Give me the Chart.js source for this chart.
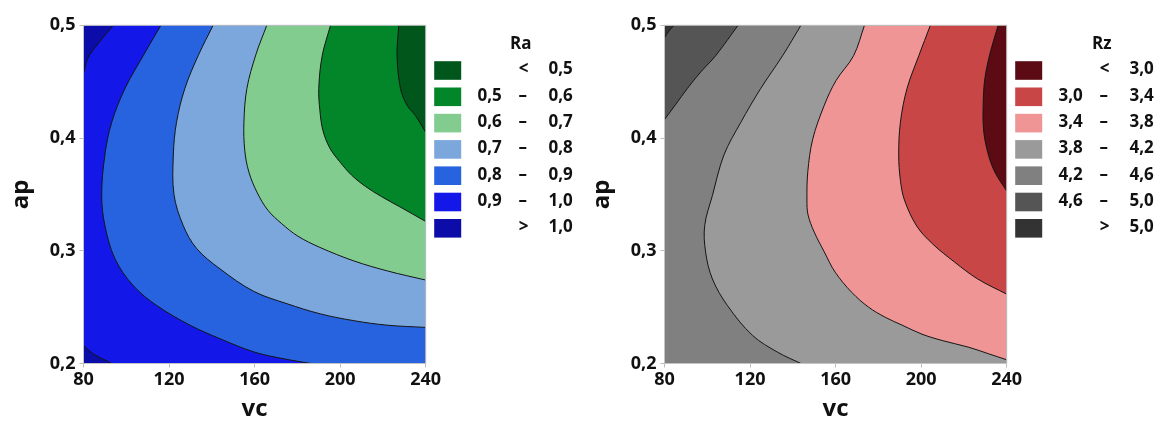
<!DOCTYPE html>
<html>
<head>
<meta charset="utf-8">
<script src="https://cdn.jsdelivr.net/npm/chart.js@4.4.0/dist/chart.umd.min.js"></script>
<style>
  html, body { margin: 0; padding: 0; background: #fff; }
  canvas { position: absolute; top: 0; }
  #raChart { left: 0; }
  #rzChart { left: 581px; }
</style>
</head>
<body>
<canvas id="raChart" width="581" height="421"></canvas>
<canvas id="rzChart" width="581" height="421"></canvas>
<script>
// Axis ticks
const vcTicks = [80, 120, 160, 200, 240];
const apTicks = [0.2, 0.3, 0.4, 0.5];

// Ra contour levels and lines as [vc, ap]
const raLevels = [0.5, 0.6, 0.7, 0.8, 0.9, 1.0];
const ra10top = [[94.0, 0.5], [87.4, 0.485], [82.1, 0.471], [80, 0.457]];
const ra10bot = [[80, 0.216], [84.6, 0.2085], [89.1, 0.204], [93.2, 0.2]];
const ra09 = [[116.2, 0.5], [107.9, 0.473], [99.4, 0.444], [93.2, 0.414], [90.0, 0.385], [88.5, 0.349], [90.0, 0.3225], [94.7, 0.293], [103.3, 0.269], [114.2, 0.2515], [129.8, 0.234], [143.8, 0.222], [160.1, 0.21], [174.1, 0.204], [186.3, 0.2]];
const ra08 = [[140.6, 0.5], [133.6, 0.473], [127.4, 0.444], [123.5, 0.414], [122.0, 0.385], [122.3, 0.35], [126.6, 0.3225], [132.9, 0.302], [143.8, 0.284], [159.6, 0.264], [175.2, 0.253], [190.8, 0.244], [206.4, 0.238], [221.9, 0.234], [240, 0.232]];
const ra07 = [[165.7, 0.5], [160.6, 0.474], [156.4, 0.444], [155.0, 0.414], [155.4, 0.389], [157.3, 0.37], [161.1, 0.352], [166.2, 0.336], [172.7, 0.324], [180.2, 0.313], [190.5, 0.303], [206.4, 0.291], [222.3, 0.282], [240, 0.274]];
const ra06 = [[195.5, 0.5], [191.6, 0.473], [190.0, 0.444], [190.5, 0.425], [191.9, 0.407], [195.2, 0.391], [199.8, 0.379], [205.4, 0.367], [211.9, 0.357], [219.4, 0.348], [227.9, 0.339], [240, 0.326]];
const ra05 = [[227.4, 0.5], [226.6, 0.473], [228.2, 0.444], [231.3, 0.429], [235.2, 0.42], [240, 0.405]];

// Rz contour levels and lines
const rzLevels = [3.0, 3.4, 3.8, 4.2, 4.6, 5.0];
const rz50 = [[84.4, 0.5], [81.9, 0.4945], [80, 0.489]];
const rz46 = [[114.4, 0.5], [103.9, 0.473], [96.9, 0.4585], [90.7, 0.444], [85.3, 0.43], [80, 0.4164]];
const rz42 = [[143.8, 0.5], [135.2, 0.473], [125.0, 0.444], [115.7, 0.414], [107.8, 0.385], [102.4, 0.349], [98.8, 0.3225], [99.2, 0.299], [102.4, 0.275], [109.4, 0.2515], [121.1, 0.225], [132.9, 0.21], [143.8, 0.2]];
const rz38 = [[173.5, 0.5], [168.4, 0.473], [160.2, 0.451], [154.7, 0.429], [149.3, 0.399], [147.0, 0.37], [146.6, 0.345], [147.1, 0.332], [150.0, 0.3166], [154.7, 0.299], [159.8, 0.281], [167.6, 0.263], [175.4, 0.25], [183.2, 0.241], [191.1, 0.234], [200.4, 0.226], [209.8, 0.2204], [222.3, 0.2144], [231.7, 0.2085], [240, 0.2033]];
const rz34 = [[204.3, 0.5], [198.9, 0.473], [193.4, 0.444], [190.3, 0.414], [189.5, 0.385], [190.3, 0.3625], [192.2, 0.345], [197.9, 0.322], [205.4, 0.306], [215.6, 0.29], [226.4, 0.275], [240, 0.2615]];
const rz30 = [[236.0, 0.5], [232.0, 0.4736], [229.7, 0.4514], [229.0, 0.429], [229.2, 0.407], [231.1, 0.3875], [234.4, 0.37], [240, 0.353]];

// Band colours, legend order (lowest first)
const raColors = ['#01561c', '#03862a', '#82cc8f', '#7ba7dd', '#2763de', '#1318e8', '#0c0ca8'];
const rzColors = ['#5c0a14', '#c84646', '#ef9595', '#9a9a9a', '#808080', '#555555', '#333333'];

const FONT = '"Open Sans", "Noto Sans", sans-serif';
const X0 = vcTicks[0], X1 = vcTicks[vcTicks.length - 1];
const Y0 = apTicks[0], Y1 = apTicks[apTicks.length - 1];
const fmt = v => v.toFixed(1).replace('.', ',');
const pts = arr => arr.map(p => ({x: p[0], y: p[1]}));
const SMOOTH = 0.35;

// repeat the end points where a contour meets the frame, so the spline
// does not bend towards the frame corners
const pin = c => [c[0], ...c, c[c.length - 1]];

// a piece of the region outline that runs along the plot frame is not a contour
function alongFrame(a, b) {
  return (a[0] === b[0] && (a[0] === X0 || a[0] === X1)) ||
         (a[1] === b[1] && (a[1] === Y0 || a[1] === Y1));
}

function buildDatasets(regions, colors) {
  // regions are painted bottom first, each one over the previous
  const ds = [];
  const n = regions.length * 2;
  regions.forEach((r, i) => {
    ds.push({
      data: pts(r),
      showLine: true,
      fill: 'shape',
      backgroundColor: colors[colors.length - 1 - i],
      borderColor: 'transparent',
      borderWidth: 0,
      pointRadius: 0,
      tension: i === 0 ? 0 : SMOOTH,
      order: n - i
    });
  });
  // contour lines: same outlines, so the curve matches the fill exactly
  regions.slice(1).forEach(r => {
    ds.push({
      data: pts(r),
      showLine: true,
      fill: false,
      borderColor: '#151515',
      borderWidth: 1,
      pointRadius: 0,
      tension: SMOOTH,
      order: 0,
      segment: {
        borderColor: c => alongFrame(r[c.p0DataIndex], r[c.p1DataIndex]) ? 'transparent' : undefined
      }
    });
  });
  return ds;
}

const legendPlugin = {
  id: 'contourLegend',
  afterDatasetsDraw(chart, args, opts) {
    const ctx = chart.ctx;
    const a = chart.chartArea;
    ctx.save();
    // frame
    ctx.strokeStyle = '#c4c4c4';
    ctx.lineWidth = 1;
    ctx.strokeRect(a.left, a.top, a.right - a.left, a.bottom - a.top);

    const x0 = a.right;
    ctx.fillStyle = '#111';
    ctx.textBaseline = 'middle';
    ctx.font = 'bold 17px ' + FONT;
    ctx.textAlign = 'center';
    ctx.fillText(opts.title, x0 + 95, 44);

    const levels = opts.levels;
    const rows = levels.length + 1;
    for (let i = 0; i < rows; i++) {
      const yc = 70.5 + i * 26.3;
      ctx.fillStyle = opts.colors[i];
      ctx.fillRect(x0 + 8.5, yc - 9.3, 27, 18.6);
      ctx.fillStyle = '#111';
      ctx.textAlign = 'right';
      if (i === 0) {
        ctx.fillText(fmt(levels[0]), x0 + 147, yc - 1);
        ctx.textAlign = 'center';
        ctx.fillText('<', x0 + 98, yc - 1);
      } else if (i === rows - 1) {
        ctx.fillText(fmt(levels[levels.length - 1]), x0 + 147, yc - 1);
        ctx.textAlign = 'center';
        ctx.fillText('>', x0 + 98, yc - 1);
      } else {
        ctx.fillText(fmt(levels[i - 1]), x0 + 76, yc - 1);
        ctx.fillText(fmt(levels[i]), x0 + 147, yc - 1);
        ctx.textAlign = 'center';
        ctx.fillText('\u2013', x0 + 97, yc - 1);
      }
    }
    ctx.restore();
  }
};

function makeChart(id, title, levels, colors, regions) {
  const ctx = document.getElementById(id).getContext('2d');
  return new Chart(ctx, {
    type: 'scatter',
    data: {datasets: buildDatasets(regions, colors)},
    options: {
      responsive: false,
      animation: false,
      events: [],
      layout: {padding: {top: 25.3, right: 155.3, left: 0, bottom: 0}},
      scales: {
        x: {
          type: 'linear',
          min: X0,
          max: X1,
          afterFit: s => { s.height = 57.5; },
          afterBuildTicks: s => { s.ticks = vcTicks.map(v => ({value: v})); },
          ticks: {
            color: '#111',
            padding: 2,
            maxRotation: 0,
            font: {family: FONT, size: 18, weight: 'bold'},
            callback: v => String(v)
          },
          grid: {drawOnChartArea: false, drawTicks: true, tickLength: 4, color: '#bdbdbd'},
          border: {color: '#c4c4c4'},
          title: {
            display: true,
            text: 'vc',
            color: '#111',
            padding: {top: 0, bottom: 0},
            font: {family: FONT, size: 24, weight: 'bold', lineHeight: 1}
          }
        },
        y: {
          type: 'linear',
          min: Y0,
          max: Y1,
          afterFit: s => { s.width = 83.5; },
          afterBuildTicks: s => { s.ticks = apTicks.map(v => ({value: v})); },
          ticks: {
            color: '#111',
            padding: 4,
            font: {family: FONT, size: 18, weight: 'bold'},
            callback: v => fmt(v)
          },
          grid: {drawOnChartArea: false, drawTicks: true, tickLength: 4, color: '#bdbdbd'},
          border: {color: '#c4c4c4'},
          title: {
            display: true,
            text: 'ap',
            color: '#111',
            padding: {top: 9, bottom: 0},
            font: {family: FONT, size: 24, weight: 'bold', lineHeight: 1}
          }
        }
      },
      plugins: {
        legend: {display: false},
        tooltip: {enabled: false},
        contourLegend: {title: title, levels: levels, colors: colors}
      }
    },
    plugins: [legendPlugin]
  });
}

const box = [[X0, Y0], [X0, Y1], [X1, Y1], [X1, Y0]];

makeChart('raChart', 'Ra', raLevels, raColors, [
  box,
  [...pin(ra10top), ...pin(ra10bot), [X1, Y0], [X1, Y1]],
  [...pin(ra09), [X1, Y0], [X1, Y1]],
  [...pin(ra08), [X1, Y1]],
  [...pin(ra07), [X1, Y1]],
  [...pin(ra06), [X1, Y1]],
  [...pin(ra05), [X1, Y1]]
]);

makeChart('rzChart', 'Rz', rzLevels, rzColors, [
  box,
  [...pin(rz50), [X0, Y0], [X1, Y0], [X1, Y1]],
  [...pin(rz46), [X0, Y0], [X1, Y0], [X1, Y1]],
  [...pin(rz42), [X1, Y0], [X1, Y1]],
  [...pin(rz38), [X1, Y1]],
  [...pin(rz34), [X1, Y1]],
  [...pin(rz30), [X1, Y1]]
]);
</script>
</body>
</html>
